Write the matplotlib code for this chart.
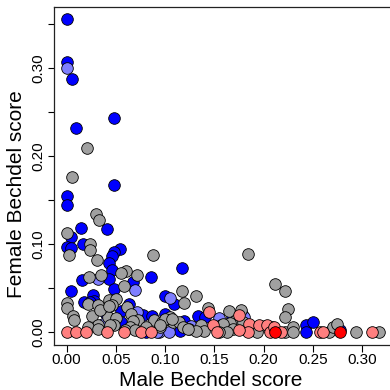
import matplotlib
matplotlib.use("Agg")
from matplotlib import pyplot as plt

plt.rcParams['font.family'] = ['Liberation Sans', 'DejaVu Sans']

# Bechdel scores, one list pair per colour group
blue_x = [0.000, 0.000, 0.006, 0.048, 0.010, 0.0486, 0.000, 0.000, 0.015, 0.0415,
          0.005, 0.017, 0.000, 0.005, 0.0547, 0.0486, 0.0466, 0.0436, 0.0466, 0.086,
          0.0155, 0.0436, 0.067, 0.0486, 0.005, 0.027, 0.100, 0.109, 0.117, 0.0176,
          0.0277, 0.0236, 0.063, 0.040, 0.0554, 0.0773, 0.0864, 0.100, 0.119, 0.0554,
          0.1155, 0.133, 0.141, 0.168, 0.179, 0.178, 0.243, 0.2506, 0.243, 0.2776,
          0.0436, 0.081, 0.1837]
blue_y = [0.356, 0.307, 0.288, 0.2435, 0.232, 0.167, 0.1545, 0.144, 0.1185, 0.117,
          0.108, 0.100, 0.097, 0.096, 0.094, 0.091, 0.0864, 0.078, 0.0705, 0.063,
          0.059, 0.060, 0.057, 0.0485, 0.0465, 0.042, 0.041, 0.032, 0.073, 0.0345,
          0.0352, 0.0345, 0.0314, 0.020, 0.024, 0.019, 0.0185, 0.021, 0.0125, 0.011,
          0.001, 0.0185, 0.0174, 0.0155, 0.005, 0.021, 0.008, 0.0117, 0.000, 0.002,
          0.009, 0.000, 0.004]

lightblue_x = [0.000, 0.032, 0.070, 0.105, 0.0716, 0.0368, 0.094, 0.104, 0.155, 0.180,
               0.126, 0.092]
lightblue_y = [0.300, 0.060, 0.048, 0.039, 0.0224, 0.0087, 0.000, 0.000, 0.0155, 0.0174,
               0.007, 0.000]

gray_x = [0.021, 0.006, 0.030, 0.033, 0.000, 0.024, 0.003, 0.024, 0.031, 0.088,
          0.060, 0.0557, 0.072, 0.0355, 0.023, 0.058, 0.1175, 0.1195, 0.131, 0.184,
          0.000, 0.000, 0.0216, 0.0317, 0.0436, 0.050, 0.046, 0.0615, 0.0064, 0.0074,
          0.0257, 0.042, 0.050, 0.0655, 0.0723, 0.0885, 0.0966, 0.105, 0.1077, 0.1145,
          0.118, 0.0486, 0.0317, 0.0216, 0.068, 0.1246, 0.144, 0.1365, 0.140, 0.131,
          0.157, 0.165, 0.167, 0.177, 0.172, 0.189, 0.032, 0.0446, 0.064, 0.081,
          0.095, 0.2114, 0.222, 0.2246, 0.222, 0.166, 0.179, 0.159, 0.1695, 0.1634,
          0.1547, 0.123, 0.2016, 0.193, 0.209, 0.222, 0.2296, 0.2303, 0.2668, 0.2708,
          0.2743, 0.2938, 0.317, 0.100, 0.107, 0.0945, 0.0337, 0.0429, 0.0598, 0.070]
gray_y = [0.209, 0.176, 0.134, 0.127, 0.112, 0.100, 0.0875, 0.093, 0.082, 0.088,
          0.069, 0.067, 0.065, 0.065, 0.063, 0.052, 0.047, 0.0326, 0.041, 0.0886,
          0.0326, 0.0277, 0.0314, 0.0307, 0.0364, 0.0375, 0.0307, 0.0288, 0.0185, 0.0136,
          0.0185, 0.0174, 0.016, 0.020, 0.0136, 0.0136, 0.0117, 0.0174, 0.0117, 0.0117,
          0.006, 0.008, 0.008, 0.006, 0.0125, 0.0034, 0.027, 0.008, 0.001, 0.001,
          0.008, 0.024, 0.0087, 0.025, 0.0136, 0.002, 0.003, 0.008, 0.006, 0.006,
          0.006, 0.0545, 0.047, 0.026, 0.0174, 0.0099, 0.0117, 0.009, 0.003, 0.000,
          0.000, 0.003, 0.007, 0.000, 0.0053, 0.000, 0.006, 0.000, 0.000, 0.0053,
          0.009, 0.000, 0.000, 0.0144, 0.0144, 0.008, 0.025, 0.0295, 0.0023, 0.002]

lightred_x = [0.000, 0.010, 0.020, 0.0415, 0.0588, 0.076, 0.086, 0.145, 0.1756, 0.149,
              0.1857, 0.195, 0.2033, 0.1847, 0.2067, 0.211, 0.2175, 0.2573, 0.2607, 0.3097,
              0.1527, 0.1746]
lightred_y = [0.000, 0.000, 0.000, 0.000, 0.000, 0.000, 0.000, 0.023, 0.0193, 0.008,
              0.0087, 0.008, 0.008, 0.000, 0.000, 0.006, 0.000, 0.000, 0.000, 0.000,
              0.000, 0.0023]

red_x = [0.2118, 0.2776]
red_y = [0.000, 0.000]

x_ticks = [0.00, 0.05, 0.10, 0.15, 0.20, 0.25, 0.30]
y_ticks = [0.00, 0.05, 0.10, 0.15, 0.20, 0.25, 0.30, 0.35]
y_labels = ["0.00", "", "0.10", "", "0.20", "", "0.30", ""]

fig = plt.figure(figsize=(3.9, 3.9), dpi=100)
# plot region runs a little past the right edge, like the cropped original
ax = fig.add_axes([54 / 390, 45.5 / 390, 337.6 / 390, 338 / 390])

groups = [
    (blue_x, blue_y, "#0000FF"),
    (lightblue_x, lightblue_y, "#7F7FFF"),
    (gray_x, gray_y, "#A0A0A0"),
    (lightred_x, lightred_y, "#FF7F7F"),
    (red_x, red_y, "#FF0000"),
]
for xs, ys, col in groups:
    ax.scatter(xs, ys, s=70, c=col, edgecolors="black", linewidths=0.6, zorder=3)

ax.set_xlim(-0.0127, 0.330)
ax.set_ylim(-0.0142, 0.3699)

ax.set_xticks(x_ticks)
ax.set_xticklabels(["%.2f" % t for t in x_ticks])
ax.set_yticks(y_ticks)
ax.set_yticklabels(y_labels, rotation=90, va="center")

ax.tick_params(axis="x", direction="out", length=5, width=0.8, pad=1, labelsize=11)
ax.tick_params(axis="y", direction="out", length=4.5, width=0.8, pad=2, labelsize=11)

for side in ["left", "bottom", "top"]:
    ax.spines[side].set_linewidth(0.9)
    ax.spines[side].set_color("#222222")
ax.spines["right"].set_visible(False)

fig.text(210.5 / 390, 1 - 380.5 / 390, "Male Bechdel score",
         fontsize=15, ha="center", va="center")
fig.text(17 / 390, 1 - 194 / 390, "Female Bechdel score",
         fontsize=15, ha="center", va="center", rotation=90)

plt.savefig("out.png", dpi=100)
plt.close(fig)
